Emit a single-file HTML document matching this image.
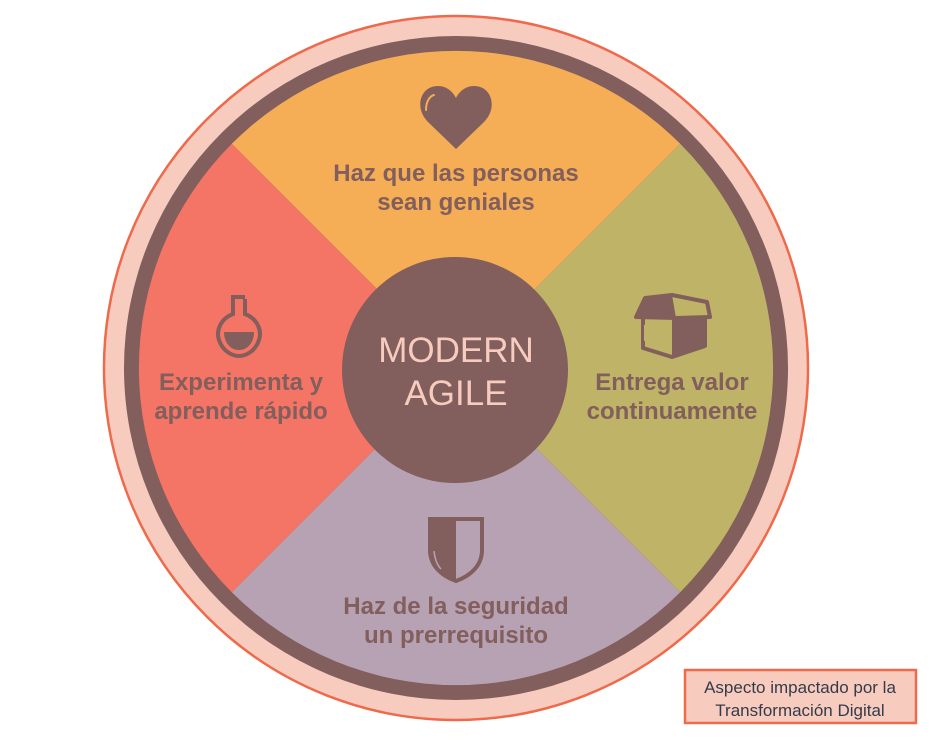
<!DOCTYPE html>
<html><head><meta charset="utf-8"><style>
html,body{margin:0;padding:0;background:#fff;width:933px;height:746px;overflow:hidden}
svg{display:block}
text{font-family:"Liberation Sans",sans-serif}
</style></head><body>
<svg width="933" height="746" viewBox="0 0 933 746">
<circle cx="456" cy="368" r="352" fill="#F8CBBF" stroke="#EE6A4A" stroke-width="2.5"/>
<circle cx="456" cy="368" r="332" fill="#825E5C"/>
<path d="M456 368 L231.8 143.8 A317 317 0 0 1 680.2 143.8 Z" fill="#F5AE55"/>
<path d="M456 368 L680.2 143.8 A317 317 0 0 1 680.2 592.2 Z" fill="#BEB366"/>
<path d="M456 368 L680.2 592.2 A317 317 0 0 1 231.8 592.2 Z" fill="#B7A2B4"/>
<path d="M456 368 L231.8 592.2 A317 317 0 0 1 231.8 143.8 Z" fill="#F47466"/>
<circle cx="455" cy="370" r="113" fill="#825E5C"/>
<g fill="#F8CBBF" font-size="35" text-anchor="middle">
<text x="456" y="362">MODERN</text>
<text x="456" y="405">AGILE</text>
</g>
<g fill="#825E5C" font-size="24" font-weight="bold" text-anchor="middle">
<text x="456" y="181">Haz que las personas</text>
<text x="456" y="210">sean geniales</text>
<text x="241" y="390">Experimenta y</text>
<text x="241" y="419">aprende rápido</text>
<text x="672" y="390">Entrega valor</text>
<text x="672" y="419">continuamente</text>
<text x="456" y="614">Haz de la seguridad</text>
<text x="456" y="643">un prerrequisito</text>
</g>
<!-- heart -->
<path d="M456 149 L428 122 C414 108 420 86 438 86 C447 86 453 92 456 98 C459 92 465 86 474 86 C492 86 498 108 484 122 Z" fill="#825E5C"/>
<path d="M426 110 C426 101 430 96 434 95" stroke="#F5AE55" stroke-width="2" fill="none" stroke-linecap="round"/>
<!-- flask -->
<g stroke="#825E5C" stroke-width="4" fill="none">
<rect x="231" y="295" width="14" height="4" fill="#825E5C" stroke="none"/>
<path d="M233 299 L233 314 C220 319 216 331 219 340 C223 352 233 356 239 356 C245 356 255 352 259 340 C262 331 258 319 245 314 L245 299"/>
</g>
<path d="M224 332 L254 332 C254 342 248 350 239 350 C230 350 224 342 224 332 Z" fill="#825E5C"/>
<!-- box -->
<g stroke="#825E5C" stroke-width="4" fill="none" stroke-linejoin="round">
<path d="M636 317 L645 298 L672 295 L707 302 L710 317 L676 318 Z"/>
<path d="M643 317 L643 348 L672 357 L705 346 L705 317"/>
</g>
<path d="M672 318 L705 317 L705 346 L672 357 Z" fill="#825E5C"/>
<path d="M645 298 L672 295 L676 318 L636 317 Z" fill="#825E5C"/>
<rect x="644" y="325" width="4" height="16" fill="#BEB366"/>
<!-- shield -->
<path d="M430 519 L482 519 L482 550 C482 566 470 576 456 581 C442 576 430 566 430 550 Z" fill="#B7A2B4" stroke="#825E5C" stroke-width="4"/>
<path d="M430 519 L456 519 L456 581 C442 576 430 566 430 550 Z" fill="#825E5C"/>
<path d="M434 551 C435 560 438 566 441 569" stroke="#B7A2B4" stroke-width="1.5" fill="none"/>
<!-- legend -->
<rect x="685" y="670" width="231" height="53" fill="#F8CBBF" stroke="#EE6A4A" stroke-width="2.5"/>
<g fill="#333B4A" font-size="17" text-anchor="middle">
<text x="800" y="693">Aspecto impactado por la</text>
<text x="800" y="716">Transformación Digital</text>
</g>
</svg>
</body></html>
